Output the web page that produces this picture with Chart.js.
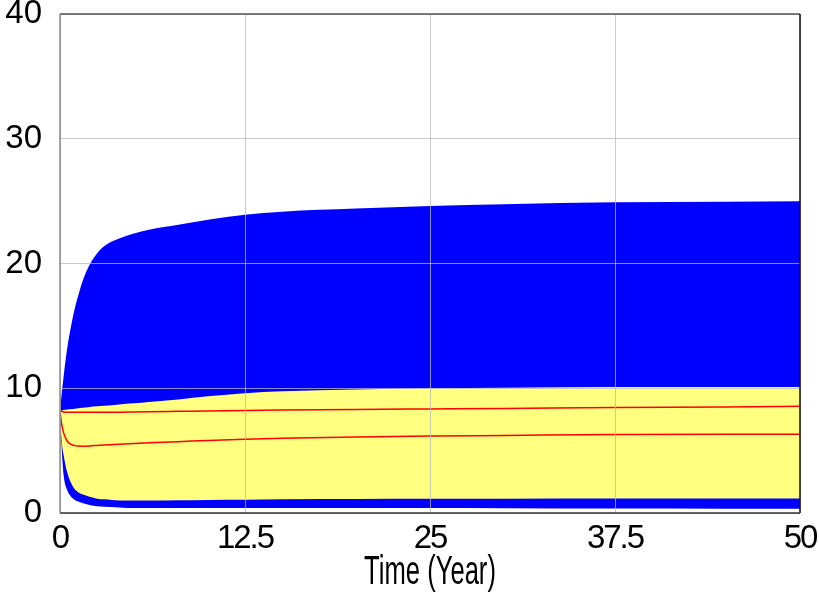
<!DOCTYPE html>
<html>
<head>
<meta charset="utf-8">
<script src="https://cdn.jsdelivr.net/npm/chart.js@4/dist/chart.umd.min.js"></script>
<style>
  html, body { margin: 0; padding: 0; background: #ffffff; }
  #wrap { width: 819px; height: 596px; }
</style>
</head>
<body>
<div id="wrap"><canvas id="c" width="819" height="596"></canvas></div>
<script>
// ---- data ----
const timeYears = [0, 0.1, 0.25, 0.5, 0.75, 1, 1.25, 1.5, 2, 2.5, 3, 4, 5, 6, 8, 10, 12.5, 15, 20, 25, 30, 37.5, 45, 50];
const blueUpper = [8.2, 9.4, 11.0, 13.3, 15.0, 16.4, 17.5, 18.5, 19.9, 20.8, 21.4, 22.0, 22.4, 22.7, 23.1, 23.5, 23.9, 24.15, 24.4, 24.6, 24.75, 24.9, 24.95, 25.0];
const blueLower = [8.2, 5.5, 3.0, 1.8, 1.3, 1.05, 0.92, 0.8, 0.65, 0.55, 0.5, 0.45, 0.4, 0.4, 0.4, 0.4, 0.4, 0.4, 0.4, 0.4, 0.38, 0.36, 0.35, 0.35];
const yellowUpper = [8.2, 8.22, 8.25, 8.3, 8.33, 8.36, 8.4, 8.43, 8.5, 8.55, 8.6, 8.7, 8.8, 8.9, 9.1, 9.35, 9.6, 9.75, 9.9, 10.0, 10.05, 10.1, 10.1, 10.1];
const yellowLower = [8.2, 6.0, 4.6, 3.2, 2.4, 1.9, 1.65, 1.5, 1.3, 1.15, 1.1, 1.0, 1.0, 1.0, 1.02, 1.05, 1.07, 1.1, 1.12, 1.14, 1.15, 1.16, 1.17, 1.17];
const redUpper = [8.2, 8.15, 8.1, 8.07, 8.07, 8.07, 8.07, 8.07, 8.07, 8.07, 8.07, 8.07, 8.1, 8.12, 8.15, 8.18, 8.22, 8.25, 8.3, 8.34, 8.38, 8.45, 8.5, 8.55];
const redLower = [8.2, 7.2, 6.4, 5.75, 5.5, 5.4, 5.37, 5.36, 5.38, 5.42, 5.46, 5.52, 5.58, 5.63, 5.72, 5.82, 5.92, 6.0, 6.1, 6.17, 6.22, 6.3, 6.32, 6.32];

const xTickValues = [0, 12.5, 25, 37.5, 50];
const xTickLabels = ['0', '12.5', '25', '37.5', '50'];
const yTickValues = [0, 10, 20, 30, 40];
const yTickLabels = ['0', '10', '20', '30', '40'];
const xTitle = 'Time (Year)';

const pts = arr => timeYears.map((t, i) => ({ x: t, y: arr[i] }));

const band = (data, color, fill) => ({
  data: pts(data),
  borderWidth: 0,
  borderColor: 'rgba(0,0,0,0)',
  backgroundColor: color,
  pointRadius: 0,
  fill: fill,
  cubicInterpolationMode: 'monotone'
});
const line = (data) => ({
  data: pts(data),
  borderWidth: 1.5,
  borderColor: '#ff0000',
  pointRadius: 0,
  fill: false,
  cubicInterpolationMode: 'monotone'
});

// plot frame around the chart area
const frame = {
  id: 'frame',
  afterDraw(chart) {
    const { ctx, chartArea: a } = chart;
    ctx.save();
    ctx.lineWidth = 1.5;
    ctx.strokeStyle = '#555555';
    ctx.beginPath(); ctx.moveTo(a.left, a.top); ctx.lineTo(a.right, a.top); ctx.stroke();
    ctx.strokeStyle = '#111111';
    ctx.beginPath(); ctx.moveTo(a.right, a.top); ctx.lineTo(a.right, a.bottom); ctx.stroke();
    ctx.strokeStyle = '#333333';
    ctx.beginPath(); ctx.moveTo(a.left, a.bottom); ctx.lineTo(a.right, a.bottom); ctx.stroke();
    ctx.strokeStyle = '#888888';
    ctx.beginPath(); ctx.moveTo(a.left, a.top); ctx.lineTo(a.left, a.bottom); ctx.stroke();
    ctx.restore();
  }
};

// condensed look of the x-axis texts (the original uses a narrow face)
const squeeze = {
  id: 'squeeze',
  afterLayout(chart) {
    const s = chart.scales.x;
    if (!s || s._squeezed) return;
    s._squeezed = true;
    const origTitle = s.drawTitle;
    s.drawTitle = function () {
      const ctx = this.ctx, cx = (this.left + this.right) / 2;
      ctx.save();
      ctx.translate(cx, 0); ctx.scale(0.64, 1); ctx.translate(-cx, 0);
      origTitle.call(this);
      ctx.restore();
    };
    const origLabels = s.drawLabels;
    s.drawLabels = function (area) {
      const ctx = this.ctx;
      ctx.save();
      ctx.letterSpacing = '-2px';
      origLabels.call(this, area);
      ctx.restore();
    };
  }
};

const gridColor = 'rgba(184,184,184,0.76)';

new Chart(document.getElementById('c'), {
  type: 'line',
  data: {
    datasets: [
      line(redUpper),
      line(redLower),
      band(yellowUpper, '#ffff80', '+1'),
      band(yellowLower, '#ffff80', false),
      band(blueUpper, '#0000ff', '+1'),
      band(blueLower, '#0000ff', false)
    ]
  },
  options: {
    responsive: false,
    animation: false,
    devicePixelRatio: 1,
    layout: { padding: { left: 0, right: 19, top: 14, bottom: 0 } },
    plugins: { legend: { display: false }, tooltip: { enabled: false } },
    scales: {
      x: {
        type: 'linear', min: 0, max: 50,
        afterBuildTicks: s => { s.ticks = xTickValues.map(v => ({ value: v })); },
        afterFit: s => { s.height = 83; s.paddingLeft = 0; s.paddingRight = 0; },
        grid: { color: gridColor, lineWidth: 1, drawTicks: false, z: 1 },
        border: { display: false },
        ticks: {
          callback: (v, i) => xTickLabels[i],
          padding: 9, color: '#000000', maxRotation: 0, autoSkip: false,
          font: { family: '"Liberation Sans", Arial, sans-serif', size: 33, lineHeight: 1 }
        },
        title: {
          display: true, text: xTitle, color: '#000000',
          padding: { top: 0, bottom: 3 },
          font: { family: '"Liberation Sans", Arial, sans-serif', size: 40, lineHeight: 1 }
        }
      },
      y: {
        type: 'linear', min: 0, max: 40,
        afterBuildTicks: s => { s.ticks = yTickValues.map(v => ({ value: v })); },
        afterFit: s => { s.width = 60; s.paddingTop = 0; s.paddingBottom = 0; },
        grid: { color: gridColor, lineWidth: 1, drawTicks: false, z: 1 },
        border: { display: false },
        ticks: {
          callback: (v, i) => yTickLabels[i],
          padding: 18, color: '#000000',
          font: { family: '"Liberation Sans", Arial, sans-serif', size: 33, lineHeight: 1 }
        }
      }
    }
  },
  plugins: [frame, squeeze]
});
</script>
</body>
</html>
